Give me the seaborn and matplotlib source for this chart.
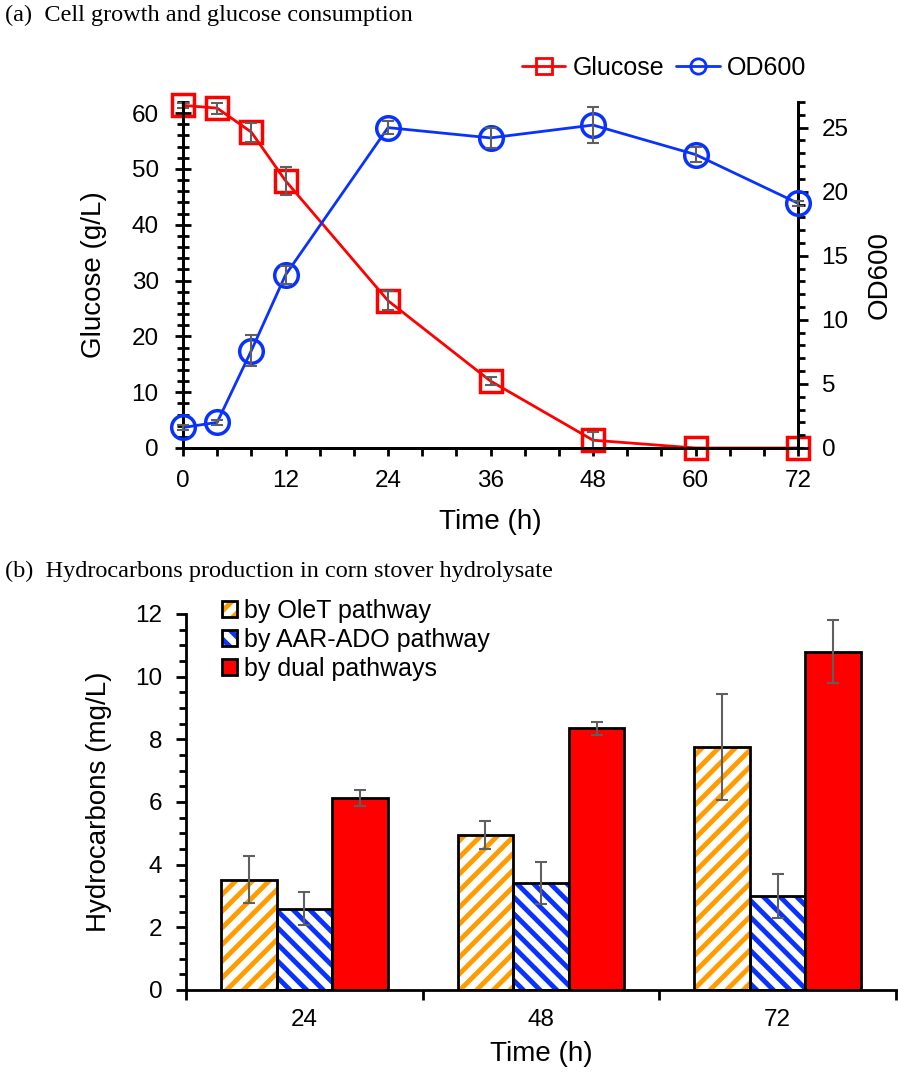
import matplotlib
matplotlib.use("Agg")
import matplotlib.pyplot as plt
from matplotlib.patches import Patch, Rectangle
from matplotlib.lines import Line2D
from matplotlib.legend_handler import HandlerTuple
from matplotlib.ticker import MultipleLocator, FixedLocator
import pandas as pd
import seaborn as sns

# (a) time course
time_h = [0, 4, 8, 12, 24, 36, 48, 60, 72]
glucose = [61.4, 60.9, 56.6, 47.9, 26.4, 12.0, 1.4, 0.0, 0.0]
glucose_err = [0.5, 1.0, 1.7, 2.5, 1.7, 0.7, 1.5, 0.0, 0.0]
od600 = [1.6, 2.0, 7.6, 13.5, 25.0, 24.2, 25.2, 22.9, 19.1]
od600_err = [0.2, 0.2, 1.2, 0.7, 0.5, 0.8, 1.4, 0.6, 0.2]

# (b) hydrocarbons
sample_time = ["24", "48", "72"]
pathways = ["by OleT pathway", "by AAR-ADO pathway", "by dual pathways"]
olet = [3.52, 4.95, 7.75]
olet_err = [0.75, 0.45, 1.7]
aar_ado = [2.6, 3.4, 3.0]
aar_ado_err = [0.53, 0.67, 0.7]
dual = [6.12, 8.35, 10.8]
dual_err = [0.25, 0.2, 1.0]

sns.set_theme(style="ticks")
plt.rcParams["font.family"] = ["Liberation Sans", "DejaVu Sans"]
plt.rcParams["hatch.linewidth"] = 3.5
for k in ["text.color", "axes.labelcolor", "xtick.color", "ytick.color", "axes.edgecolor"]:
    plt.rcParams[k] = "black"

fig = plt.figure(figsize=(8.98, 10.74), dpi=100)
W, H = 898, 1074

def box(l, t, r, b):
    return [l / W, 1 - b / H, (r - l) / W, (b - t) / H]

tick_fs = 17.5
lab_fs = 20
leg_fs = 18
err_col = "#5f5f5f"
red = "#ff0000"
blue = "#0a32ff"

# ---------- panel a ----------
ax = fig.add_axes(box(183, 102, 798, 448))
ax2 = ax.twinx()
sns.lineplot(x=time_h, y=glucose, ax=ax, color=red, lw=2, marker="s",
             markersize=16.5, markerfacecolor="none", markeredgecolor=red,
             markeredgewidth=2.5, zorder=3, clip_on=False)
ax.errorbar(time_h, glucose, yerr=glucose_err, fmt="none", ecolor=err_col,
            elinewidth=1.5, capsize=4, capthick=1.5, zorder=4, clip_on=False)
sns.lineplot(x=time_h, y=od600, ax=ax2, color=blue, lw=2, marker="o",
             markersize=17, markerfacecolor="none", markeredgecolor=blue,
             markeredgewidth=2.5, zorder=3, clip_on=False)
ax2.errorbar(time_h, od600, yerr=od600_err, fmt="none", ecolor=err_col,
             elinewidth=1.5, capsize=4, capthick=1.5, zorder=4, clip_on=False)

ax.set_xlim(0, 72)
ax.set_ylim(0, 62)
ax2.set_ylim(0, 27)
ax.xaxis.set_major_locator(MultipleLocator(12))
ax.xaxis.set_minor_locator(MultipleLocator(4))
ax.yaxis.set_major_locator(MultipleLocator(10))
ax.yaxis.set_minor_locator(MultipleLocator(2))
ax2.yaxis.set_major_locator(MultipleLocator(5))
ax2.yaxis.set_minor_locator(MultipleLocator(1))
for a in (ax, ax2):
    a.spines["top"].set_visible(False)
    for s in a.spines.values():
        s.set_linewidth(2)
ax.tick_params(axis="x", which="both", direction="out", length=6, width=2,
               labelsize=tick_fs, pad=10)
ax.tick_params(axis="y", which="major", direction="inout", length=11, width=2,
               labelsize=tick_fs, pad=12)
ax.tick_params(axis="y", which="minor", direction="inout", length=9, width=2)
ax2.tick_params(axis="y", which="major", direction="out", length=7, width=2,
                labelsize=tick_fs, pad=10)
ax2.tick_params(axis="y", which="minor", direction="out", length=5, width=2)
ax.set_xlabel("Time (h)", fontsize=lab_fs, labelpad=12)
ax.set_ylabel("Glucose (g/L)", fontsize=lab_fs, labelpad=18)
ax2.set_ylabel("OD600", fontsize=lab_fs, labelpad=13)

h1 = Line2D([], [], color=red, lw=2, marker="s", markersize=11,
            markerfacecolor="none", markeredgewidth=2)
h2 = Line2D([], [], color=blue, lw=2, marker="o", markersize=11,
            markerfacecolor="none", markeredgewidth=2)
fig.legend([h1, h2], ["Glucose", "OD600"], loc="center", ncol=2,
           bbox_to_anchor=(664 / W, 1 - 68 / H), frameon=False, fontsize=leg_fs,
           handlelength=1.75, columnspacing=0.45, handletextpad=0.3)

fig.text(5 / W, 1 - 15 / H, "(a)  Cell growth and glucose consumption",
         family="Liberation Serif", fontsize=17.5, va="center", ha="left")

# ---------- panel b ----------
bx = fig.add_axes(box(186, 614, 896, 990))
df = pd.DataFrame({
    "time": sample_time * 3,
    "value": olet + aar_ado + dual,
    "err": olet_err + aar_ado_err + dual_err,
    "pathway": [p for p in pathways for _ in sample_time],
})
fills = ["white", "white", red]
hatch_cols = ["#ff9d00", blue, red]
hatches = ["//", "\\\\", ""]
sns.barplot(data=df, x="time", y="value", hue="pathway", hue_order=pathways,
            palette=dict(zip(pathways, fills)), width=0.705, ax=bx,
            legend=False, errorbar=None, saturation=1)

for cont, p, hc, ht in zip(bx.containers, pathways, hatch_cols, hatches):
    sub = df[df["pathway"] == p]
    xs = []
    for bar in cont:
        bar.set_hatch(ht)
        bar.set_edgecolor(hc)
        bar.set_linewidth(0)
        bx.add_patch(Rectangle(bar.get_xy(), bar.get_width(), bar.get_height(),
                               fill=False, ec="black", lw=2, zorder=bar.get_zorder() + 0.1))
        xs.append(bar.get_x() + bar.get_width() / 2)
    bx.errorbar(xs, sub["value"], yerr=sub["err"], fmt="none", ecolor=err_col,
                elinewidth=1.5, capsize=4, capthick=1.5, zorder=5)

bx.set_ylim(0, 12)
bx.set_xlim(-0.5, 2.5)
bx.yaxis.set_major_locator(MultipleLocator(2))
bx.yaxis.set_minor_locator(MultipleLocator(0.5))
bx.xaxis.set_minor_locator(FixedLocator([-0.5, 0.5, 1.5, 2.5]))
sns.despine(ax=bx)
for s in bx.spines.values():
    s.set_linewidth(2)
bx.tick_params(axis="y", which="major", direction="out", length=7, width=2,
               labelsize=tick_fs, pad=10)
bx.tick_params(axis="y", which="minor", direction="out", length=5, width=2)
bx.tick_params(axis="x", which="major", length=0, labelsize=tick_fs, pad=14)
bx.tick_params(axis="x", which="minor", direction="out", length=7, width=2)
bx.set_xlabel("Time (h)", fontsize=lab_fs, labelpad=7)
bx.set_ylabel("Hydrocarbons (mg/L)", fontsize=lab_fs, labelpad=17)

handles = []
for f, hc, ht in zip(fills, hatch_cols, hatches):
    handles.append((Patch(facecolor=f, edgecolor=hc, hatch=ht, lw=0),
                    Patch(fill=False, edgecolor="black", lw=2)))
bx.legend(handles, pathways, handler_map={tuple: HandlerTuple(ndivide=1, pad=0)},
          loc="upper left", bbox_to_anchor=(222 / W, 1 - 599 / H),
          bbox_transform=fig.transFigure, frameon=False, fontsize=leg_fs,
          handlelength=0.6, handleheight=0.6, handletextpad=0.3, labelspacing=0.2,
          borderaxespad=0, borderpad=0)

fig.text(5 / W, 1 - 571 / H, "(b)  Hydrocarbons production in corn stover hydrolysate",
         family="Liberation Serif", fontsize=17.5, va="center", ha="left")

fig.savefig("out.png", dpi=100)
